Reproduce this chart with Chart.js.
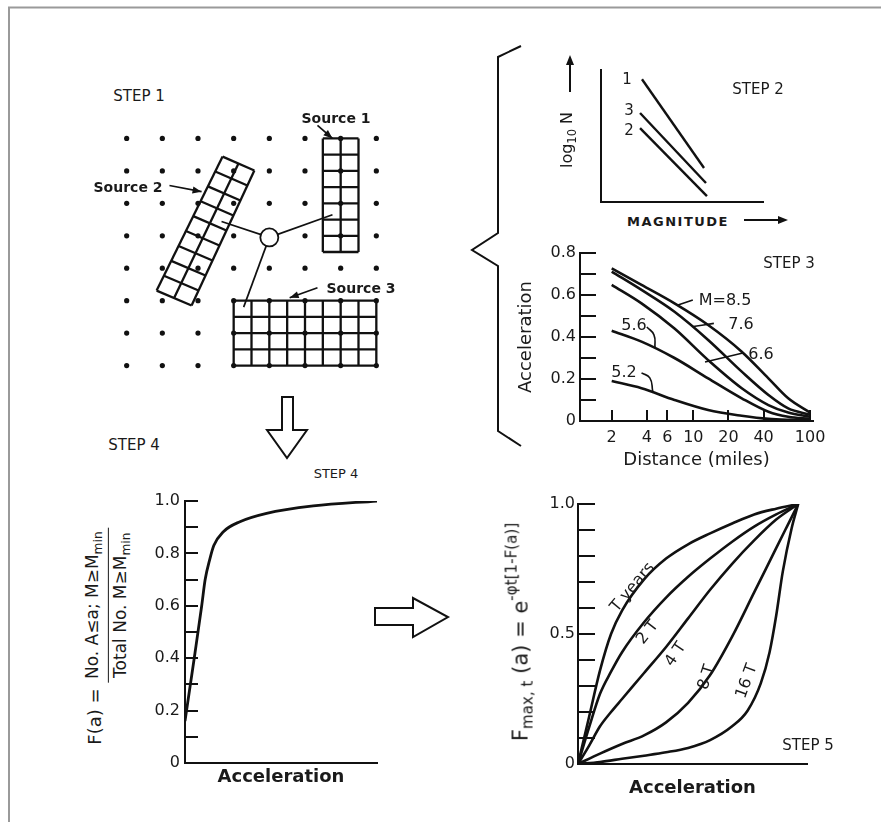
<!DOCTYPE html>
<html>
<head>
<meta charset="utf-8">
<script src="https://cdn.jsdelivr.net/npm/chart.js@4.4.0/dist/chart.umd.min.js"></script>
<style>
  body { margin: 0; background: #fff; }
  #page { position: relative; width: 881px; height: 822px; overflow: hidden;
          font-family: "DejaVu Sans", sans-serif; color: #1a1a1a; }
  canvas { position: absolute; }
  svg { position: absolute; left: 0; top: 0; }
  .t { position: absolute; white-space: nowrap; line-height: 1; transform: translate(-50%, -50%); }
  .b { font-weight: bold; }
  .frac { display: inline-flex; flex-direction: column; align-items: center; vertical-align: middle; }
  .frac .num { border-bottom: 1.5px solid #1a1a1a; padding: 0 4px 3px; }
  .frac .den { padding: 3px 4px 0; }
  sub, sup { font-size: 72%; }
</style>
</head>
<body>
<div id="page">
  <svg width="881" height="822">
    <!-- frame -->
    <polyline points="9,822 9,7.5 881,7.5" fill="none" stroke="#9a9a9a" stroke-width="2"/>
    <!-- brace -->
    <polyline points="521,46 498,57 498,233 472,250 498,266 498,431 521,446" fill="none" stroke="#111" stroke-width="2"/>
    <!-- down arrow -->
    <polygon points="282,397 293,397 293,430 307,430 287,458 267,430 282,430" fill="#fff" stroke="#111" stroke-width="2"/>
    <!-- right arrow -->
    <polygon points="375,608 413,608 413,598 448,617 413,637 413,625 375,625" fill="#fff" stroke="#111" stroke-width="2"/>
    <!-- step 2 axis arrows -->
    <line x1="570" y1="92" x2="570" y2="62" stroke="#111" stroke-width="2"/>
    <polygon points="570,55 566,65 574,65" fill="#111"/>
    <line x1="744" y1="220" x2="780" y2="220" stroke="#111" stroke-width="2"/>
    <polygon points="788,220 778,216 778,224" fill="#111"/>
  </svg>

  <canvas id="c1" width="321" height="292" style="left:91px;top:106px"></canvas>
  <canvas id="c2" width="175" height="147" style="left:595px;top:60px"></canvas>
  <canvas id="c3" width="340" height="235" style="left:500px;top:240px"></canvas>
  <canvas id="c4" width="245" height="300" style="left:140px;top:490px"></canvas>
  <canvas id="c5" width="315" height="320" style="left:500px;top:494px"></canvas>

  <!-- step 1 texts -->
  <div class="t" style="left:139px;top:96px;font-size:15px">STEP 1</div>
  <div class="t b" style="left:336px;top:118px;font-size:14px">Source 1</div>
  <div class="t b" style="left:128px;top:187px;font-size:14px">Source 2</div>
  <div class="t b" style="left:361px;top:288px;font-size:14px">Source 3</div>

  <!-- step 2 texts -->
  <div class="t" style="left:758px;top:89px;font-size:15px">STEP 2</div>
  <div class="t" style="left:627px;top:79px;font-size:15px">1</div>
  <div class="t" style="left:629px;top:110px;font-size:15px">3</div>
  <div class="t" style="left:629px;top:130px;font-size:15px">2</div>
  <div class="t" style="left:569px;top:140px;font-size:16px;transform:translate(-50%,-50%) rotate(-90deg)">log<sub>10</sub> N</div>
  <div class="t b" style="left:678px;top:221px;font-size:13px;letter-spacing:1.5px">MAGNITUDE</div>

  <!-- step 3 texts -->
  <div class="t" style="left:789px;top:263px;font-size:15px">STEP 3</div>
  <div class="t" style="left:725px;top:300px;font-size:16px">M=8.5</div>
  <div class="t" style="left:741px;top:324px;font-size:16px">7.6</div>
  <div class="t" style="left:761px;top:354px;font-size:16px">6.6</div>
  <div class="t" style="left:634px;top:325px;font-size:16px">5.6</div>
  <div class="t" style="left:624px;top:372px;font-size:16px">5.2</div>

  <!-- step 4 texts -->
  <div class="t" style="left:134px;top:445px;font-size:15px">STEP 4</div>
  <div class="t" style="left:336px;top:473px;font-size:13px">STEP 4</div>
  <div class="t" style="left:108px;top:636px;font-size:17px;transform:translate(-50%,-50%) rotate(-90deg)">
    <span style="position:relative;top:-12px;font-size:18px">F(a) =</span>
    <span class="frac"><span class="num">No. A≤a; M≥M<sub>min</sub></span><span class="den">Total No. M≥M<sub>min</sub></span></span>
  </div>

  <!-- step 5 texts -->
  <div class="t" style="left:808px;top:745px;font-size:15px">STEP 5</div>
  <div class="t" style="left:520px;top:632px;font-size:21px;transform:translate(-50%,-50%) rotate(-90deg)">F<sub>max, t</sub> (a) = e<sup style="vertical-align:0.7em">-φt[1-F(a)]</sup></div>
  <div class="t" style="left:632px;top:587px;font-size:16px;transform:translate(-50%,-50%) rotate(-50deg)">T years</div>
  <div class="t" style="left:647px;top:632px;font-size:16px;transform:translate(-50%,-50%) rotate(-52deg)">2 T</div>
  <div class="t" style="left:675px;top:654px;font-size:16px;transform:translate(-50%,-50%) rotate(-56deg)">4 T</div>
  <div class="t" style="left:706px;top:677px;font-size:16px;transform:translate(-50%,-50%) rotate(-72deg)">8 T</div>
  <div class="t" style="left:746px;top:681px;font-size:16px;transform:translate(-50%,-50%) rotate(-70deg)">16 T</div>
</div>

<script>
// ---------- data ----------
// Step 1: site grid (grid units, rows counted downward)
const gridCols = [0, 1, 2, 3, 4, 5, 6, 7];
const gridRows = [0, 1, 2, 3, 4, 5, 6, 7];
// source corners: top-left, top-right, bottom-right, bottom-left
const source1 = [[5.5, 0], [6.5, 0], [6.5, 3.5], [5.5, 3.5]];
const source1Cells = [2, 7];
const source2 = [[2.69, 0.56], [3.58, 0.99], [1.82, 5.15], [0.84, 4.69]];
const source2Cells = [2, 9];
const source3 = [[3, 5], [7, 5], [7, 7], [3, 7]];
const source3Cells = [8, 4];
const site = [4, 3.05];
const rayEnds = [[5.77, 2.35], [2.66, 2.56], [3.28, 5.2]];
const sourceLeaders = [
  [[5.35, -0.4], [5.77, 0]],
  [[1.2, 1.45], [2.1, 1.64]],
  [[5.35, 4.6], [4.57, 4.91]]
];

// Step 2: recurrence lines (log N vs magnitude), curves 1, 3, 2
const recX = [[2.53, 6.36], [2.41, 6.48], [2.41, 6.54]];
const recY = [[9.3, 2.58], [6.74, 1.44], [5.6, 0.45]];

// Step 3: attenuation curves
const distance = [2, 3.6, 6.9, 13.4, 26, 44, 65, 100];
const accM85 = [0.727, 0.648, 0.56, 0.457, 0.33, 0.203, 0.108, 0.04];
const accM76 = [0.711, 0.624, 0.52, 0.386, 0.235, 0.124, 0.06, 0.03];
const accM66 = [0.648, 0.56, 0.44, 0.29, 0.156, 0.076, 0.04, 0.02];
const accM56 = [0.43, 0.378, 0.30, 0.203, 0.108, 0.044, 0.02, 0.01];
const accM52 = [0.19, 0.156, 0.10, 0.052, 0.025, 0.01, 0.006, 0.005];
const distTicks = [2, 4, 6, 10, 20, 40, 100];
const magLeaders = [
  [[7.4, 0.552], [9.9, 0.576]],
  [[10, 0.45], [15, 0.465]],
  [[12.6, 0.281], [26.6, 0.324]],
  [[4.0, 0.448], [4.6, 0.41], [4.7, 0.35]],
  [[3.6, 0.229], [4.24, 0.205], [4.5, 0.14]]
];

// Step 4: F(a)
const fAccel = [0, 0.026, 0.052, 0.087, 0.105, 0.13, 0.15, 0.2, 0.286, 0.425, 0.668, 1];
const fValue = [0.16, 0.29, 0.42, 0.6, 0.70, 0.78, 0.83, 0.883, 0.921, 0.953, 0.981, 1.0];

// Step 5: Fmax,t for T, 2T, 4T, 8T, 16T
const tX = [0, 0.05, 0.1, 0.15, 0.2, 0.3, 0.4, 0.5, 0.6, 0.7, 0.8, 0.9, 1];
const t1Y = [0, 0.18, 0.36, 0.5, 0.59, 0.71, 0.79, 0.845, 0.887, 0.925, 0.96, 0.982, 1];
const t2Y = [0, 0.14, 0.27, 0.355, 0.43, 0.545, 0.64, 0.72, 0.79, 0.855, 0.913, 0.96, 1];
const t4Y = [0, 0.07, 0.145, 0.2, 0.25, 0.35, 0.45, 0.56, 0.67, 0.77, 0.86, 0.94, 1];
const t8X = [0, 0.1, 0.2, 0.3, 0.4, 0.5, 0.6, 0.7, 0.8, 0.85, 0.9, 0.95, 1];
const t8Y = [0, 0.04, 0.077, 0.11, 0.16, 0.235, 0.342, 0.49, 0.66, 0.745, 0.83, 0.915, 1];
const t16X = [0, 0.1, 0.2, 0.3, 0.4, 0.5, 0.6, 0.7, 0.77, 0.83, 0.87, 0.9, 0.93, 0.97, 1];
const t16Y = [0, 0.008, 0.02, 0.032, 0.045, 0.062, 0.092, 0.145, 0.205, 0.31, 0.43, 0.57, 0.74, 0.906, 1];

// ---------- setup ----------
const ink = '#111';
Chart.defaults.font.family = '"DejaVu Sans", sans-serif';
Chart.defaults.color = '#1a1a1a';
Chart.defaults.animation = false;
Chart.defaults.events = [];
Chart.defaults.layout.autoPadding = false;
Chart.defaults.plugins.legend.display = false;
Chart.defaults.plugins.tooltip.enabled = false;

// tick marks drawn inward from the axes
const inTicks = {
  id: 'inTicks',
  afterDraw(chart, args, opts) {
    const ctx = chart.ctx;
    ctx.save();
    ctx.strokeStyle = ink;
    ctx.lineWidth = 2;
    ['x', 'y'].forEach(k => {
      const len = opts[k];
      if (!len) return;
      const s = chart.scales[k];
      s.ticks.forEach(t => {
        const p = Math.round(s.getPixelForValue(t.value));
        ctx.beginPath();
        if (k === 'y') { ctx.moveTo(s.right, p); ctx.lineTo(s.right + len, p); }
        else { ctx.moveTo(p, s.top); ctx.lineTo(p, s.top - len); }
        ctx.stroke();
      });
    });
    ctx.restore();
  }
};

// filled arrow heads at the end of leader lines
const arrowHeads = {
  id: 'arrowHeads',
  afterDatasetsDraw(chart) {
    const ctx = chart.ctx;
    chart.data.datasets.forEach((ds, i) => {
      if (!ds.arrowHead) return;
      const pts = chart.getDatasetMeta(i).data;
      const a = pts[pts.length - 2], b = pts[pts.length - 1];
      ctx.save();
      ctx.translate(b.x, b.y);
      ctx.rotate(Math.atan2(b.y - a.y, b.x - a.x));
      ctx.beginPath();
      ctx.moveTo(0, 0); ctx.lineTo(-9, -3.5); ctx.lineTo(-9, 3.5); ctx.closePath();
      ctx.fillStyle = ink;
      ctx.fill();
      ctx.restore();
    });
  }
};

const pts = (xs, ys) => xs.map((x, i) => ({ x: x, y: ys[i] }));
const seg = (a, b, w) => ({
  data: [{ x: a[0], y: a[1] }, { x: b[0], y: b[1] }],
  showLine: true, borderColor: ink, borderWidth: w, pointRadius: 0
});
const lerp = (a, b, t) => [a[0] + (b[0] - a[0]) * t, a[1] + (b[1] - a[1]) * t];
function cellLines(c, cells) {
  const [tl, tr, br, bl] = c, [nc, nr] = cells, out = [];
  for (let i = 0; i <= nc; i++) out.push([lerp(tl, tr, i / nc), lerp(bl, br, i / nc)]);
  for (let j = 0; j <= nr; j++) out.push([lerp(tl, bl, j / nr), lerp(tr, br, j / nr)]);
  return out;
}
const tenths = (labels) => (v) => {
  const k = Math.round(v * 10);
  if (!labels.includes(k)) return '';
  return k === 0 ? '0' : (k / 10).toFixed(1);
};
const plainAxis = { grid: { drawOnChartArea: false, drawTicks: false }, border: { color: ink, width: 2 } };
// fixed axis box sizes, no label overflow padding
const fixW = w => s => { s.width = w; s.paddingTop = 0; s.paddingBottom = 0; };
const fixH = h => s => { s.height = h; s.paddingLeft = 0; s.paddingRight = 0; };

// ---------- step 1 ----------
const step1Sets = [];
step1Sets.push({ data: [{ x: site[0], y: site[1] }], pointRadius: 9,
  pointBackgroundColor: '#fff', pointBorderColor: ink, pointBorderWidth: 1.8 });
rayEnds.forEach(e => step1Sets.push(seg(site, e, 1.7)));
[[source1, source1Cells], [source2, source2Cells], [source3, source3Cells]].forEach(([c, n]) =>
  cellLines(c, n).forEach(s => step1Sets.push(seg(s[0], s[1], 2.3))));
const dots = [];
gridRows.forEach(r => gridCols.forEach(c => dots.push({ x: c, y: r })));
step1Sets.push({ data: dots, pointRadius: 2.6, pointBackgroundColor: ink, pointBorderWidth: 0 });
sourceLeaders.forEach(l => step1Sets.push(Object.assign(seg(l[0], l[1], 1.7), { arrowHead: true })));

new Chart(document.getElementById('c1'), {
  type: 'scatter',
  data: { datasets: step1Sets },
  plugins: [arrowHeads],
  options: {
    responsive: false,
    layout: { padding: 0 },
    scales: {
      x: { type: 'linear', min: -1, max: 8, display: false },
      y: { type: 'linear', min: -1, max: 8, reverse: true, display: false }
    }
  }
});

// ---------- step 2 ----------
new Chart(document.getElementById('c2'), {
  type: 'line',
  data: { datasets: recX.map((xs, k) => ({ data: pts(xs, recY[k]), borderColor: ink, borderWidth: 2.4, pointRadius: 0 })) },
  options: {
    responsive: false,
    layout: { padding: { top: 10, right: 7, left: 0, bottom: 0 } },
    scales: {
      x: Object.assign({ type: 'linear', min: 0, max: 10, ticks: { display: false }, afterFit: fixH(5) }, plainAxis),
      y: Object.assign({ type: 'linear', min: 0, max: 10, ticks: { display: false }, afterFit: fixW(6) }, plainAxis)
    }
  }
});

// ---------- step 3 ----------
const curve = (ys, xs) => ({ data: pts(xs, ys), borderColor: ink, borderWidth: 2.6, pointRadius: 0,
  cubicInterpolationMode: 'monotone' });
const step3Sets = [accM85, accM76, accM66, accM56, accM52].map(a => curve(a, distance));
magLeaders.forEach(l => step3Sets.push({ data: l.map(p => ({ x: p[0], y: p[1] })),
  borderColor: ink, borderWidth: 1.6, pointRadius: 0, tension: 0.5 }));

new Chart(document.getElementById('c3'), {
  type: 'line',
  data: { datasets: step3Sets },
  plugins: [inTicks],
  options: {
    responsive: false,
    layout: { padding: { top: 13, right: 27, left: 0, bottom: 0 } },
    plugins: { inTicks: { x: 11, y: 16 } },
    scales: {
      x: Object.assign({
        type: 'logarithmic', min: 1.07, max: 106,
        afterBuildTicks: s => { s.ticks = distTicks.map(v => ({ value: v })); },
        ticks: { callback: v => String(v), autoSkip: false, maxRotation: 0, padding: 7, font: { size: 16 } },
        title: { display: true, text: 'Distance (miles)', font: { size: 18 }, padding: { top: 0, bottom: 4 } },
        afterFit: fixH(54)
      }, plainAxis),
      y: Object.assign({
        type: 'linear', min: 0, max: 0.8,
        ticks: { stepSize: 0.1, autoSkip: false, callback: tenths([0, 2, 4, 6, 8]), padding: 4, font: { size: 16 } },
        title: { display: true, text: 'Acceleration', font: { size: 18 }, padding: { top: 16, bottom: 0 } },
        afterFit: fixW(80)
      }, plainAxis)
    }
  }
});

// ---------- step 4 ----------
new Chart(document.getElementById('c4'), {
  type: 'line',
  data: { datasets: [{ data: pts(fAccel, fValue), borderColor: ink, borderWidth: 2.8, pointRadius: 0,
    cubicInterpolationMode: 'monotone' }] },
  plugins: [inTicks],
  options: {
    responsive: false,
    layout: { padding: { top: 11, right: 8, left: 0, bottom: 0 } },
    plugins: { inTicks: { y: 13 } },
    scales: {
      x: Object.assign({
        type: 'linear', min: 0, max: 1, ticks: { display: false },
        title: { display: true, text: 'Acceleration', font: { size: 18, weight: 'bold' }, padding: { top: 0, bottom: 2 } },
        afterFit: fixH(27)
      }, plainAxis),
      y: Object.assign({
        type: 'linear', min: 0, max: 1,
        ticks: { stepSize: 0.1, autoSkip: false, callback: tenths([0, 2, 4, 6, 8, 10]), padding: 5, font: { size: 16 } },
        afterFit: fixW(45)
      }, plainAxis)
    }
  }
});

// ---------- step 5 ----------
const step5Sets = [
  curve(t1Y, tX), curve(t2Y, tX), curve(t4Y, tX), curve(t8Y, t8X), curve(t16Y, t16X)
];
new Chart(document.getElementById('c5'), {
  type: 'line',
  data: { datasets: step5Sets },
  plugins: [inTicks],
  options: {
    responsive: false,
    layout: { padding: { top: 10, right: 8, left: 0, bottom: 0 } },
    plugins: { inTicks: { y: 17 } },
    scales: {
      x: Object.assign({
        type: 'linear', min: 0, max: 1.04, ticks: { display: false },
        title: { display: true, text: 'Acceleration', font: { size: 18, weight: 'bold' }, padding: { top: 0, bottom: 15 } },
        afterFit: fixH(50)
      }, plainAxis),
      y: Object.assign({
        type: 'linear', min: 0, max: 1,
        ticks: { stepSize: 0.1, autoSkip: false, callback: tenths([0, 5, 10]), padding: 3, font: { size: 16 } },
        afterFit: fixW(78)
      }, plainAxis)
    }
  }
});
</script>
</body>
</html>
